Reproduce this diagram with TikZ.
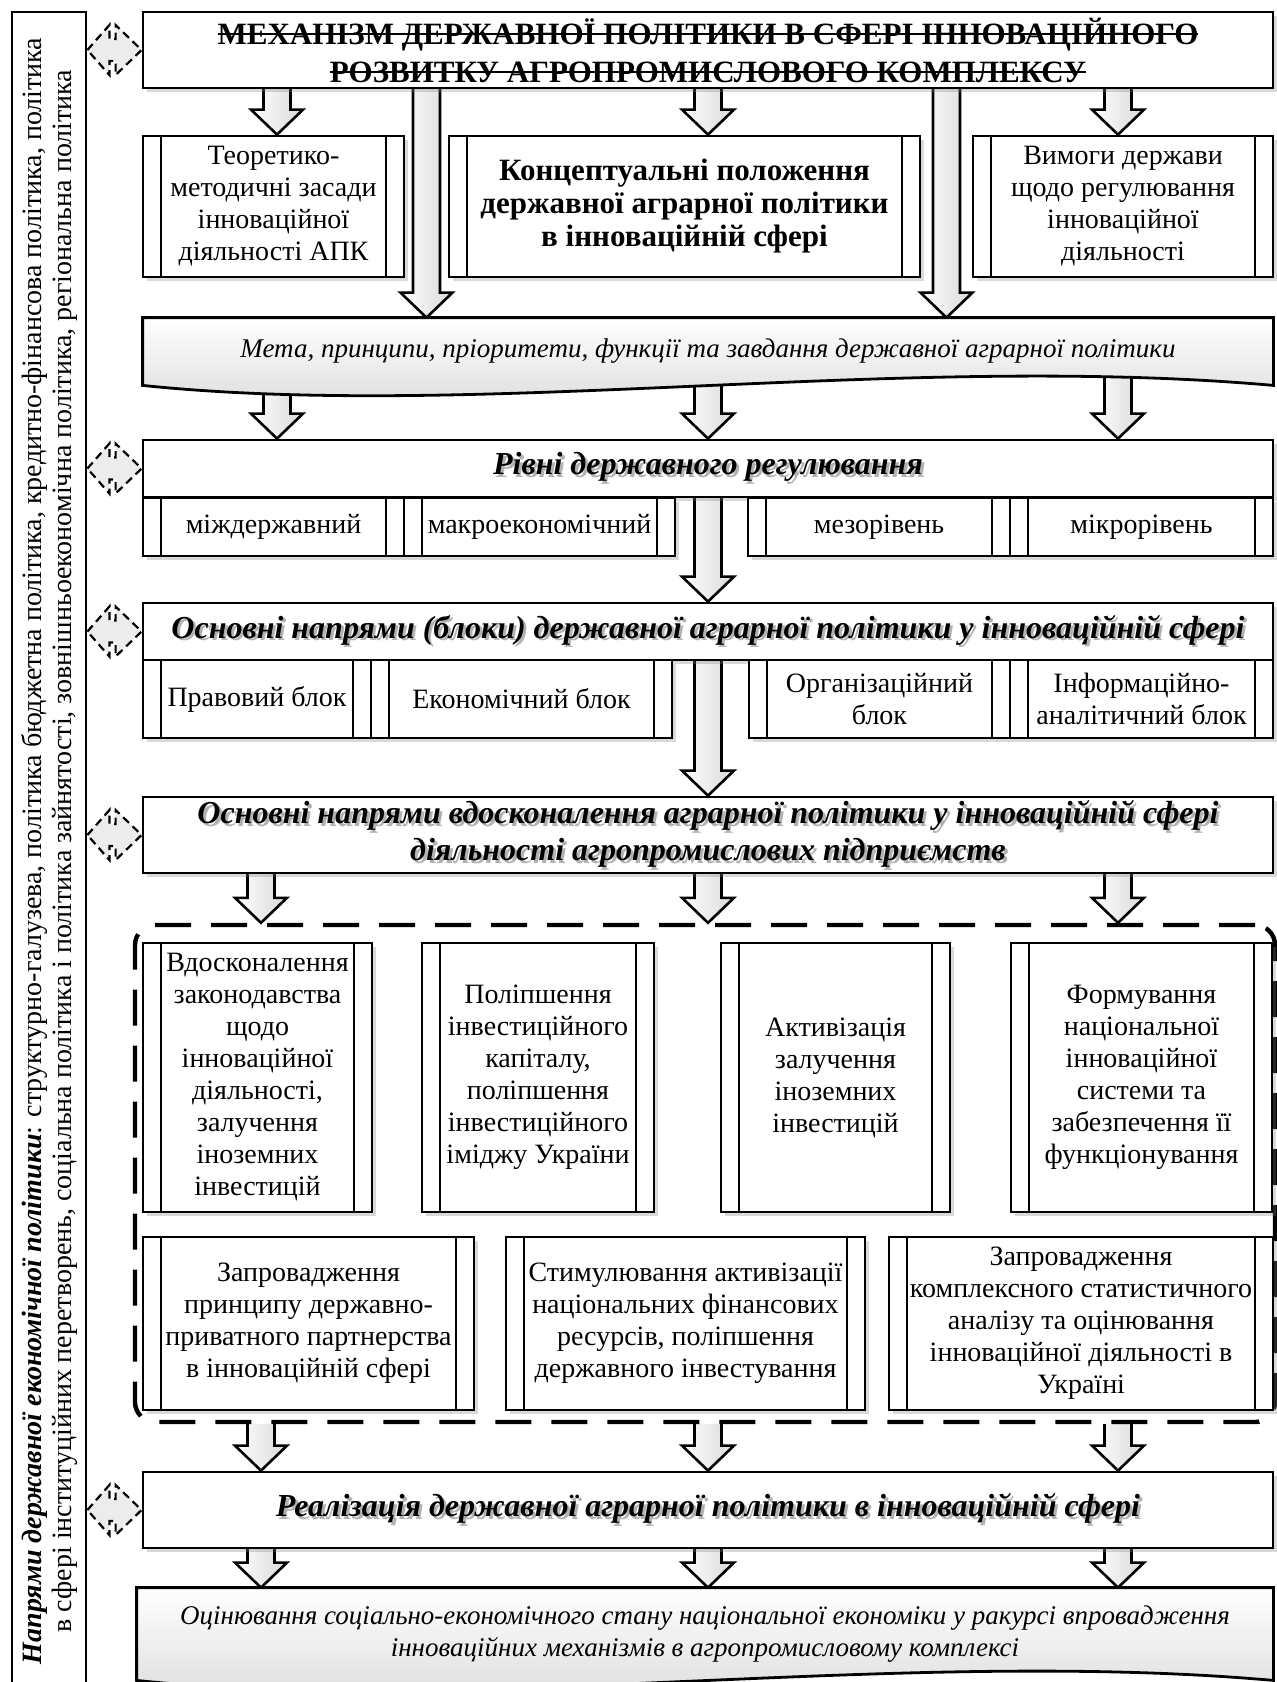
\documentclass[tikz,border=0pt]{standalone}
\usepackage{fontspec}
\setmainfont{Liberation Serif}
\usetikzlibrary{calc, shadows}
\pgfdeclarelayer{background}
\pgfsetlayers{background,main}
\newcommand{\strk}[1]{\leavevmode\setbox0=\hbox{#1}\rlap{\copy0}\rule[0.3em]{\wd0}{0.8pt}}
\newcommand{\shd}[1]{\leavevmode\rlap{\kern1.4pt\raisebox{-1.4pt}{\color{gray!60}#1}}#1}

\begin{document}
\begin{tikzpicture}[x=0.5pt, y=-0.5pt,
    every node/.style={align=center},
    box/.style={draw, line width=1.4pt, fill=white, inner sep=1pt,
      drop shadow={opacity=0.3, shadow xshift=2pt, shadow yshift=-2pt}},
    procbox/.style={box, path picture={
        \draw[line width=1.4pt]
          ([xshift=9pt]path picture bounding box.north west) -- ([xshift=9pt]path picture bounding box.south west)
          ([xshift=-9pt]path picture bounding box.north east) -- ([xshift=-9pt]path picture bounding box.south east);}},
    txt/.style={font=\fontsize{14}{16}\selectfont},
    heading/.style={box, font=\fontsize{16}{18.5}\selectfont\bfseries\itshape},
    docbox/.style={draw, line width=1.4pt, top color=white, bottom color=gray!30},
    dashbox/.style={draw, line width=2.2pt, dash pattern=on 18pt off 10pt, rounded corners=10pt},
    barrow/.style={draw, line width=1.3pt, left color=white, right color=gray!30,
      to path={let \p1=(\tikztostart), \p2=(\tikztotarget) in
        (\x1-6.75pt,\y1) -- (\x1-6.75pt,\y2+12.5pt) -- (\x1-13pt,\y2+12.5pt) -- (\x1,\y2)
        -- (\x1+13pt,\y2+12.5pt) -- (\x1+6.75pt,\y2+12.5pt) -- (\x1+6.75pt,\y1)}},
    lrarrow/.style={draw, line width=1.1pt, dash pattern=on 4pt off 2.5pt, fill=gray!15,
      to path={let \p1=(\tikztostart), \p2=(\tikztotarget) in
        (\p1) -- (\x1+11pt,\y1+12.5pt) -- (\x1+11pt,\y1+5.5pt) -- (\x2-13pt,\y1+5.5pt)
        -- (\x2-13pt,\y1+12.5pt) -- (\p2) -- (\x2-13pt,\y1-12.5pt) -- (\x2-13pt,\y1-5.5pt)
        -- (\x1+11pt,\y1-5.5pt) -- (\x1+11pt,\y1-12.5pt) -- cycle}}
  ]
  \useasboundingbox (0,0) rectangle (1276,1682);

  % Side box
  \node[draw, line width=1.4pt, fill=white, rotate=90, inner sep=1pt, minimum width=839pt, minimum height=37pt,
    font=\fontsize{14}{15}\selectfont] (side) at (49,851)
    {\textbf{\textit{Напрями державної економічної політики}}: структурно-галузева, політика бюджетна політика, кредитно-фінансова політика, політика\\в сфері інституційних перетворень, соціальна політика і політика зайнятості, зовнішньоекономічна політика, регіональна політика};

  % Title
  \node[box, font=\fontsize{15.5}{19}\selectfont\bfseries, minimum width=565pt, minimum height=38pt] (title) at (708,50)
    {\strk{МЕХАНІЗМ ДЕРЖАВНОЇ ПОЛІТИКИ В СФЕРІ ІННОВАЦІЙНОГО}\\\strk{РОЗВИТКУ АГРОПРОМИСЛОВОГО КОМПЛЕКСУ}};

  % First row
  \node[procbox, txt, minimum width=130.5pt, minimum height=70.5pt] (teor) at (273.5,206.5)
    {Теоретико-\\методичні засади\\інноваційної\\діяльності АПК};
  \node[procbox, font=\fontsize{15.5}{16.5}\selectfont\bfseries, minimum width=235.5pt, minimum height=70.5pt] (konc) at (684.5,206.5)
    {Концептуальні положення\\державної аграрної політики\\в інноваційній сфері};
  \node[procbox, txt, minimum width=150pt, minimum height=70.5pt] (vymogy) at (1123,206.5)
    {Вимоги держави\\щодо регулювання\\інноваційної\\діяльності};

  % Goals
  \node[minimum width=565pt, minimum height=33.5pt, font=\fontsize{13.5}{16}\selectfont\itshape] (meta) at (708,351.5)
    {Мета, принципи, пріоритети, функції та завдання державної аграрної політики};

  % Levels
  \node[heading, minimum width=565pt, minimum height=28.5pt] (rivni) at (708,468.5) {\shd{Рівні державного регулювання}};
  \node[procbox, txt, minimum width=130.5pt, minimum height=29pt] (mizh) at (273.5,527) {міждержавний};
  \node[procbox, txt, minimum width=135.5pt, minimum height=29pt] (makro) at (539.5,527) {макроекономічний};
  \node[procbox, txt, minimum width=131pt, minimum height=29pt] (mezo) at (879,527) {мезорівень};
  \node[procbox, txt, minimum width=131.5pt, minimum height=29pt] (mikro) at (1141.5,527) {мікрорівень};

  % Blocks
  \node[heading, minimum width=565pt, minimum height=28.5pt] (bloky) at (708,631.5)
    {\shd{Основні напрями (блоки) державної аграрної політики у інноваційній сфері}};
  \node[procbox, txt, minimum width=114pt, minimum height=39pt] (prav) at (257,699) {Правовий блок};
  \node[procbox, txt, minimum width=150.5pt, minimum height=39pt] (ekon) at (521.5,699) {Економічний блок};
  \node[procbox, txt, minimum width=130.5pt, minimum height=39pt] (orh) at (879.5,699) {Організаційний\\блок};
  \node[procbox, txt, minimum width=131.5pt, minimum height=39pt] (inf) at (1141.5,699) {Інформаційно-\\аналітичний блок};

  % Improvement
  \node[heading, minimum width=565pt, minimum height=38pt] (vdosk) at (708,835)
    {\shd{Основні напрями вдосконалення аграрної політики у інноваційній сфері}\\\shd{діяльності агропромислових підприємств}};

  \node[dashbox, minimum width=570pt, minimum height=248.5pt] (zone) at (705,1173.5) {};

  \node[procbox, txt, minimum width=114.5pt, minimum height=134.5pt] (vd) at (257.5,1077.5)
    {Вдосконалення\\законодавства\\щодо\\інноваційної\\діяльності,\\залучення\\іноземних\\інвестицій};
  \node[procbox, txt, minimum width=116pt, minimum height=134.5pt] (pol) at (538,1077.5)
    {Поліпшення\\інвестиційного\\капіталу,\\поліпшення\\інвестиційного\\іміджу України};
  \node[procbox, txt, minimum width=114.5pt, minimum height=134.5pt] (akt) at (835.5,1077.5)
    {Активізація\\залучення\\іноземних\\інвестицій};
  \node[procbox, txt, minimum width=130.5pt, minimum height=134.5pt] (form) at (1141.5,1077.5)
    {Формування\\національної\\інноваційної\\системи та\\забезпечення її\\функціонування};

  \node[procbox, txt, minimum width=165.5pt, minimum height=86.5pt] (zpr) at (308.5,1323.5)
    {Запровадження\\принципу державно-\\приватного партнерства\\в інноваційній сфері};
  \node[procbox, txt, minimum width=179.5pt, minimum height=86.5pt] (stym) at (685.5,1323.5)
    {Стимулювання активізації\\національних фінансових\\ресурсів, поліпшення\\державного інвестування};
  \node[procbox, txt, minimum width=192pt, minimum height=86.5pt] (zkom) at (1081,1323.5)
    {Запровадження\\комплексного статистичного\\аналізу та оцінювання\\інноваційної діяльності в\\Україні};

  % Realisation
  \node[heading, minimum width=565pt, minimum height=38pt] (real) at (708,1510)
    {\shd{Реалізація державної аграрної політики в інноваційній сфері}};

  \node[minimum width=568pt, minimum height=46pt, font=\fontsize{13.5}{16}\selectfont\itshape] (otsin) at (705,1634)
    {Оцінювання соціально-економічного стану національної економіки у ракурсі впровадження\\інноваційних механізмів в агропромисловому комплексі};

  % Double arrows to side box
  \foreach \t in {title, rivni, bloky, vdosk, real}
    \draw[lrarrow] (side.south |- \t.west) to (\t.west);

  % Block arrows
  \begin{pgfonlayer}{background}
    \coordinate (cA) at (277,0);
    \coordinate (cB) at (261,0);
    \coordinate (cM) at (708,0);
    \coordinate (cR) at (1118,0);
    \path ($(teor.east)!0.5!(konc.west)$) coordinate (gapL)
          ($(konc.east)!0.5!(vymogy.west)$) coordinate (gapR);
    \foreach \c in {cA, cM, cR}
      \draw[barrow] (title.center -| \c) to (teor.north -| \c);
    \foreach \c in {gapL, gapR}
      \draw[barrow] (title.center -| \c) to (meta.north -| \c);
    \foreach \c in {cA, cM, cR}
      \draw[barrow] (meta.center -| \c) to (rivni.north -| \c);
    \draw[barrow] (rivni.center) to (bloky.north);
    \draw[barrow] (bloky.center) to (vdosk.north);
    \foreach \c in {cB, cM, cR} {
      \draw[barrow] (vdosk.center -| \c) to (zone.north -| \c);
      \draw[barrow] (zone.south -| \c) to (real.north -| \c);
      \draw[barrow] (real.center -| \c) to (otsin.north -| \c);
    }
    % Wavy boxes
    \draw[docbox] (meta.north west) -- (meta.north east) -- (meta.south east)
      .. controls ($(meta.south east)+(-373,-33)$) and ($(meta.south west)+(337,35)$) .. (meta.south west) -- cycle;
    \draw[docbox] (otsin.north west) -- (otsin.north east) -- (otsin.south east)
      .. controls ($(otsin.south east)+(-373,-33)$) and ($(otsin.south west)+(337,35)$) .. (otsin.south west) -- cycle;
  \end{pgfonlayer}
\end{tikzpicture}
\end{document}
